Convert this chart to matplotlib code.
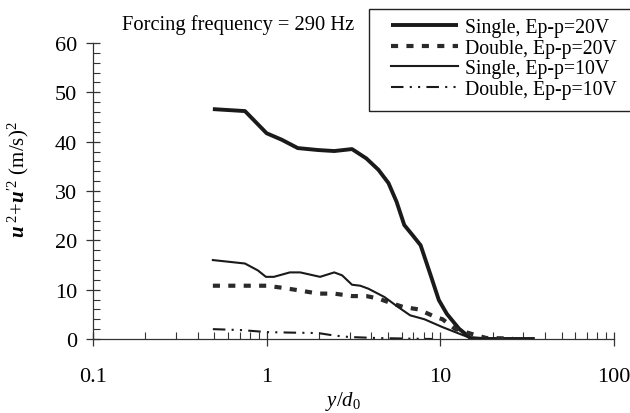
import matplotlib
matplotlib.use("Agg")
import matplotlib.pyplot as plt
from matplotlib.patches import Rectangle
from matplotlib.ticker import FixedLocator, NullFormatter, LogLocator, MultipleLocator

plt.rcParams['font.family'] = ['Liberation Serif', 'DejaVu Serif']
plt.rcParams['mathtext.fontset'] = 'custom'
plt.rcParams['mathtext.rm'] = 'Liberation Serif'
plt.rcParams['mathtext.it'] = 'Liberation Serif:italic'
plt.rcParams['mathtext.bf'] = 'Liberation Serif:bold'
try:
    plt.rcParams['mathtext.bfit'] = 'Liberation Serif:italic:bold'
except KeyError:
    pass

# ---- data ----
s20_x = [0.49, 0.75, 1.0, 1.22, 1.51, 1.98, 2.45, 3.1, 3.75, 4.4, 5.03, 5.6, 6.2, 6.9, 7.7, 8.8, 9.8, 10.9, 12.8, 14.9, 17.6, 25, 35]
s20_y = [46.6, 46.2, 41.7, 40.4, 38.7, 38.3, 38.1, 38.5, 36.6, 34.3, 31.6, 27.8, 23.1, 21.1, 19.0, 12.9, 7.9, 5.1, 2.1, 0.2, 0.0, 0.0, 0.0]

d20_x = [0.49, 1.0, 1.22, 1.51, 1.98, 2.45, 3.1, 3.75, 4.4, 5.0, 6.1, 7.5, 9.3, 10.3, 12.1, 14.9, 18.4, 26]
d20_y = [10.8, 10.8, 10.4, 9.9, 9.2, 9.2, 8.7, 8.7, 8.2, 7.5, 6.5, 6.0, 4.5, 4.0, 2.1, 1.1, 0.2, 0.1]

s10_x = [0.49, 0.75, 0.89, 0.99, 1.1, 1.36, 1.56, 2.03, 2.45, 2.72, 3.1, 3.46, 3.85, 4.77, 5.6, 6.7, 8.1, 10.3, 12.8, 14.9, 20]
s10_y = [16.0, 15.3, 13.9, 12.6, 12.6, 13.5, 13.5, 12.6, 13.5, 12.9, 11.0, 10.8, 10.2, 8.5, 6.7, 4.8, 4.0, 2.4, 1.1, 0.2, 0.0]

d10_x = [0.49, 0.72, 1.0, 1.36, 1.98, 2.45, 3.0, 4.3, 6.1, 9.0]
d10_y = [2.0, 1.8, 1.4, 1.3, 1.2, 0.7, 0.4, 0.2, 0.1, 0.0]

labels = ["Single, Ep-p=20V", "Double, Ep-p=20V", "Single, Ep-p=10V", "Double, Ep-p=10V"]
x_ticks = [0.1, 1, 10, 100]
x_ticklabels = ["0.1", "1", "10", "100"]
y_ticks = [0, 10, 20, 30, 40, 50, 60]

W, H = 630, 414
fig = plt.figure(figsize=(W / 100, H / 100), dpi=100)
ax = fig.add_axes([93 / W, 1 - 340 / H, (614 - 93) / W, (340 - 44) / H])

c = '#1a1a1a'
ax.plot(s20_x, s20_y, color=c, lw=2.8, solid_capstyle='butt', label=labels[0])
ax.plot(d20_x, d20_y, color='#2a2a2a', lw=3.0, dashes=(1.7, 2.0), label=labels[1])
ax.plot(s10_x, s10_y, color=c, lw=1.5, label=labels[2])
ax.plot(d10_x, d10_y, color=c, lw=1.5, dashes=(6, 3, 1, 3, 1, 3), label=labels[3])

ax.set_xscale('log')
ax.set_xlim(0.1, 100)
ax.set_ylim(0, 60)

ax.spines['top'].set_visible(False)
ax.spines['right'].set_visible(False)
for s in ('left', 'bottom'):
    ax.spines[s].set_linewidth(0.9)
    ax.spines[s].set_color('#333333')

ax.xaxis.set_major_locator(FixedLocator(x_ticks))
ax.set_xticklabels(x_ticklabels)
ax.xaxis.set_minor_locator(LogLocator(base=10, subs=[2, 3, 4, 5, 6, 7, 8, 9]))
ax.xaxis.set_minor_formatter(NullFormatter())
ax.yaxis.set_major_locator(FixedLocator(y_ticks))
ax.yaxis.set_minor_locator(MultipleLocator(2))

ax.tick_params(axis='x', which='major', direction='inout', length=10, width=0.9, pad=15, labelsize=16, color='#333333')
ax.tick_params(axis='x', which='minor', direction='in', length=5, width=0.8, color='#333333')
ax.tick_params(axis='y', which='major', direction='inout', length=10, width=0.9, pad=6.5, labelsize=16, color='#333333')
ax.tick_params(axis='y', which='minor', direction='in', length=5, width=0.8, color='#333333')

ax.set_xlabel(r"$y/d_0$", fontsize=15)
ax.xaxis.set_label_coords((343 - 93) / 521, (340 - 390) / 296)
ax.set_ylabel(r"$\mathbfit{u}^{\ 2}\!+\!\mathbfit{u}^{\prime 2}$ (m/s)$^2$", fontsize=15)
ax.yaxis.set_label_coords(-(93 - 31) / 521, (340 - 180) / 296)

fig.text(122 / W, 1 - 25 / H, "Forcing frequency = 290 Hz", fontsize=14.8, va='center', ha='left')

# legend box (reference frame runs past the right edge)
fig.patches.append(Rectangle((369 / W, 1 - 112 / H), (640 - 369) / W, (112 - 10) / H,
                             transform=fig.transFigure, fill=False, edgecolor='#222222', lw=1.0))
leg = ax.legend(loc='upper left', bbox_to_anchor=(391 / W, 1 - 19 / H), bbox_transform=fig.transFigure,
                fontsize=14.2, frameon=False,
                handlelength=3.4, handletextpad=0.35, labelspacing=0.08, borderpad=0.0,
                borderaxespad=0)

fig.savefig("out.png", dpi=100)
